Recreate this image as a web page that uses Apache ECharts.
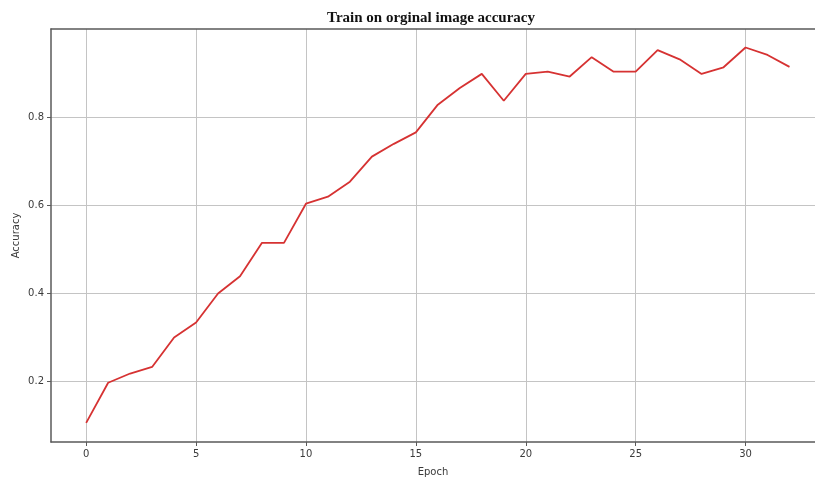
<!DOCTYPE html>
<html>
<head>
<meta charset="utf-8">
<title>Train on orginal image accuracy</title>
<script src="https://cdn.jsdelivr.net/npm/echarts@6/dist/echarts.min.js"></script>
<style>
  html, body { margin: 0; padding: 0; background: #ffffff; }
  #chart { width: 815px; height: 482px; }
</style>
</head>
<body>
<div id="chart"></div>
<script>
// Training accuracy per epoch
const epochs = [0, 1, 2, 3, 4, 5, 6, 7, 8, 9, 10, 11, 12, 13, 14, 15, 16,
                17, 18, 19, 20, 21, 22, 23, 24, 25, 26, 27, 28, 29, 30, 31, 32];
const accuracy = [0.105, 0.196, 0.217, 0.232, 0.299, 0.333, 0.399, 0.438, 0.514, 0.514,
                  0.603, 0.619, 0.653, 0.710, 0.739, 0.765, 0.828, 0.866, 0.898, 0.837,
                  0.898, 0.903, 0.892, 0.936, 0.903, 0.903, 0.952, 0.931, 0.898, 0.913,
                  0.958, 0.941, 0.914];

// Tick positions
const xTicks = [0, 5, 10, 15, 20, 25, 30];
const yTicks = [0.2, 0.4, 0.6, 0.8];

const chart = echarts.init(document.getElementById('chart'), null, { renderer: 'canvas' });

const axisColor = '#5a5a5a';
const gridColor = '#c4c4c4';
const labelColor = '#3a3a3a';
const sansFont = 'DejaVu Sans';
const xMin = -1.6, xMax = 33.16;

chart.setOption({
  animation: false,
  backgroundColor: '#ffffff',
  title: {
    text: 'Train on orginal image accuracy',
    left: 426,
    top: 6,
    textAlign: 'center',
    textStyle: {
      fontFamily: 'Liberation Serif',
      fontWeight: 'bold',
      fontSize: 15,
      color: '#111111'
    }
  },
  grid: {
    left: 51,
    top: 29,
    right: 0,
    bottom: 40
  },
  xAxis: [{
    type: 'value',
    min: xMin,
    max: xMax,
    name: 'Epoch',
    nameLocation: 'middle',
    nameGap: 25,
    nameTextStyle: { fontFamily: sansFont, fontSize: 10, color: labelColor },
    axisLine: { show: true, onZero: false, lineStyle: { color: axisColor, width: 1.5 } },
    axisTick: { show: true, customValues: xTicks, length: 4, inside: false, lineStyle: { color: axisColor } },
    axisLabel: {
      customValues: xTicks,
      fontFamily: sansFont, fontSize: 10, color: labelColor, margin: 7,
      formatter: v => String(v)
    },
    splitLine: { show: true, lineStyle: { color: gridColor, width: 1 } }
  }, {
    // top frame edge
    type: 'value',
    position: 'top',
    min: xMin,
    max: xMax,
    axisLine: { show: true, onZero: false, lineStyle: { color: axisColor, width: 1.5 } },
    axisTick: { show: false },
    axisLabel: { show: false },
    splitLine: { show: false }
  }],
  yAxis: {
    type: 'value',
    min: 0.0614,
    max: 1.0,
    name: 'Accuracy',
    nameLocation: 'middle',
    nameGap: 30,
    nameMoveOverlap: false,
    nameRotate: 90,
    nameTextStyle: { fontFamily: sansFont, fontSize: 10, color: labelColor },
    axisLine: { show: true, onZero: false, lineStyle: { color: axisColor, width: 1.5 } },
    axisTick: { show: true, customValues: yTicks, length: 4, inside: false, lineStyle: { color: axisColor } },
    axisLabel: {
      customValues: yTicks,
      fontFamily: sansFont, fontSize: 10, color: labelColor, margin: 7,
      formatter: v => v.toFixed(1)
    },
    splitLine: { show: true, lineStyle: { color: gridColor, width: 1 } }
  },
  series: [{
    type: 'line',
    xAxisIndex: 0,
    data: epochs.map((e, i) => [e, accuracy[i]]),
    showSymbol: false,
    symbol: 'none',
    lineStyle: { color: '#d63232', width: 1.8 },
    z: 3
  }]
});
</script>
</body>
</html>
